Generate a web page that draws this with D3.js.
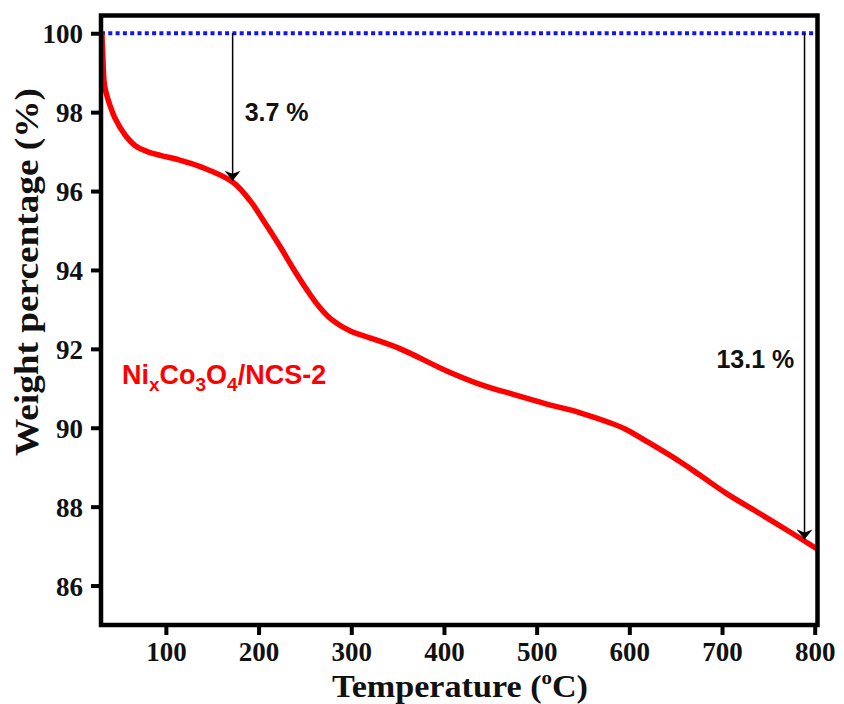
<!DOCTYPE html>
<html>
<head>
<meta charset="utf-8">
<script src="https://cdn.jsdelivr.net/npm/d3@7"></script>
<style>
  body { margin: 0; background: #fff; }
</style>
</head>
<body>
<svg id="chart" width="844" height="704"></svg>
<script>
// TGA curve
const temperature = [31, 32, 34, 40, 45, 56, 67, 80, 95, 113, 137, 172, 191, 205, 223, 237, 252, 266, 280, 299, 320, 353, 403, 439, 474, 511, 547, 582, 597, 619, 654, 676, 705, 741, 776, 803];
const weight = [100, 99.4, 98.65, 98.15, 97.85, 97.42, 97.15, 97.0, 96.9, 96.8, 96.62, 96.23, 95.75, 95.26, 94.6, 94.05, 93.5, 93.05, 92.72, 92.45, 92.28, 92.0, 91.44, 91.1, 90.85, 90.6, 90.38, 90.1, 89.95, 89.65, 89.15, 88.8, 88.33, 87.82, 87.32, 86.92];

const xTicks = [100, 200, 300, 400, 500, 600, 700, 800];
const yTicks = [86, 88, 90, 92, 94, 96, 98, 100];

// weight-loss arrows
const arrowTemps = [172, 789];
const arrowEnds = [96.26, 87.17];
const lossLabels = ["3.7 %", "13.1 %"];
const lossLabelAt = [[185, 97.77], [694, 91.51]];

const width = 844;
const height = 704;
const margin = { top: 15.5, right: 26.5, bottom: 79, left: 101 };

const svg = d3.select("#chart");

const x = d3.scaleLinear()
  .domain([30, 803])
  .range([margin.left, width - margin.right]);

const y = d3.scaleLinear()
  .domain([85, 100.45])
  .range([height - margin.bottom, margin.top]);

const data = temperature.map((t, i) => ({ t, w: weight[i] }));

// reference line at 100 %
svg.append("line")
  .attr("x1", x(30)).attr("x2", x(803))
  .attr("y1", y(100)).attr("y2", y(100))
  .attr("stroke", "#1414f0")
  .attr("stroke-width", 4)
  .attr("stroke-dasharray", "4,3.3");

svg.append("path")
  .datum(data)
  .attr("fill", "none")
  .attr("stroke", "#ff0000")
  .attr("stroke-width", 5.5)
  .attr("stroke-linejoin", "round")
  .attr("d", d3.line().curve(d3.curveCatmullRom.alpha(0.5)).x(d => x(d.t)).y(d => y(d.w)));

// arrows
svg.append("defs").append("marker")
  .attr("id", "head")
  .attr("viewBox", "0 0 10 16")
  .attr("refX", 10).attr("refY", 8)
  .attr("markerWidth", 10).attr("markerHeight", 16)
  .attr("markerUnits", "userSpaceOnUse")
  .attr("orient", "auto")
  .append("path")
  .attr("d", "M0,0 L10,8 L0,16 L3,8 Z")
  .attr("fill", "#000");

arrowTemps.forEach((t, i) => {
  svg.append("line")
    .attr("x1", x(t)).attr("x2", x(t))
    .attr("y1", y(100)).attr("y2", y(arrowEnds[i]))
    .attr("stroke", "#000")
    .attr("stroke-width", 1.5)
    .attr("marker-end", "url(#head)");
});

svg.selectAll(".loss")
  .data(lossLabels)
  .enter()
  .append("text")
  .attr("class", "loss")
  .attr("x", (d, i) => x(lossLabelAt[i][0]))
  .attr("y", (d, i) => y(lossLabelAt[i][1]))
  .attr("font-family", "Liberation Sans, Arial, sans-serif")
  .attr("font-weight", "bold")
  .attr("font-size", 25)
  .attr("fill", "#111")
  .text(d => d);

// sample name
const name = svg.append("text")
  .attr("x", x(52.6))
  .attr("y", y(91.1))
  .attr("font-family", "Liberation Sans, Arial, sans-serif")
  .attr("font-weight", "bold")
  .attr("font-size", 27)
  .attr("fill", "#ff0000");
[["Ni", 0], ["x", 1], ["Co", 0], ["3", 1], ["O", 0], ["4", 1], ["/NCS-2", 0]].forEach(([s, sub], i, arr) => {
  const prevSub = i > 0 ? arr[i - 1][1] : 0;
  name.append("tspan")
    .attr("font-size", sub ? 19 : 27)
    .attr("dy", sub && !prevSub ? 7 : (!sub && prevSub ? -7 : 0))
    .text(s);
});

// axes
const axisFont = g => g
  .attr("font-family", "Liberation Serif, Times New Roman, serif")
  .attr("font-weight", "bold")
  .attr("font-size", 27);

svg.append("g")
  .attr("transform", `translate(${margin.left},0)`)
  .call(d3.axisLeft(y).tickValues(yTicks).tickFormat(d3.format("d")).tickSize(10).tickSizeOuter(0))
  .call(axisFont)
  .call(g => g.select(".domain").remove())
  .call(g => g.selectAll(".tick line").attr("stroke-width", 4))
  .call(g => g.selectAll(".tick text").attr("fill", "#111").attr("x", -18).attr("dy", "0.35em"));

svg.append("g")
  .attr("transform", `translate(0,${height - margin.bottom})`)
  .call(d3.axisBottom(x).tickValues(xTicks).tickFormat(d3.format("d")).tickSize(10).tickSizeOuter(0))
  .call(axisFont)
  .call(g => g.select(".domain").remove())
  .call(g => g.selectAll(".tick line").attr("stroke-width", 4))
  .call(g => g.selectAll(".tick text").attr("fill", "#111").attr("y", 36).attr("dy", 0));

// frame
svg.append("rect")
  .attr("x", margin.left)
  .attr("y", margin.top)
  .attr("width", width - margin.left - margin.right)
  .attr("height", height - margin.top - margin.bottom)
  .attr("fill", "none")
  .attr("stroke", "#000")
  .attr("stroke-width", 4.5);

// axis titles
const xTitle = svg.append("text")
  .attr("x", 332)
  .attr("y", 697)
  .attr("font-family", "Liberation Serif, Times New Roman, serif")
  .attr("font-weight", "bold")
  .attr("font-size", 31)
  .attr("fill", "#111")
  .attr("textLength", 256)
  .attr("lengthAdjust", "spacingAndGlyphs");
xTitle.append("tspan").text("Temperature (");
xTitle.append("tspan").attr("font-size", 19).attr("dy", -13).text("o");
xTitle.append("tspan").attr("dy", 13).text("C)");

svg.append("text")
  .attr("transform", "translate(38,456) rotate(-90)")
  .attr("font-family", "Liberation Serif, Times New Roman, serif")
  .attr("font-weight", "bold")
  .attr("font-size", 34)
  .attr("fill", "#111")
  .attr("textLength", 368)
  .attr("lengthAdjust", "spacingAndGlyphs")
  .text("Weight percentage (%)");
</script>
</body>
</html>
